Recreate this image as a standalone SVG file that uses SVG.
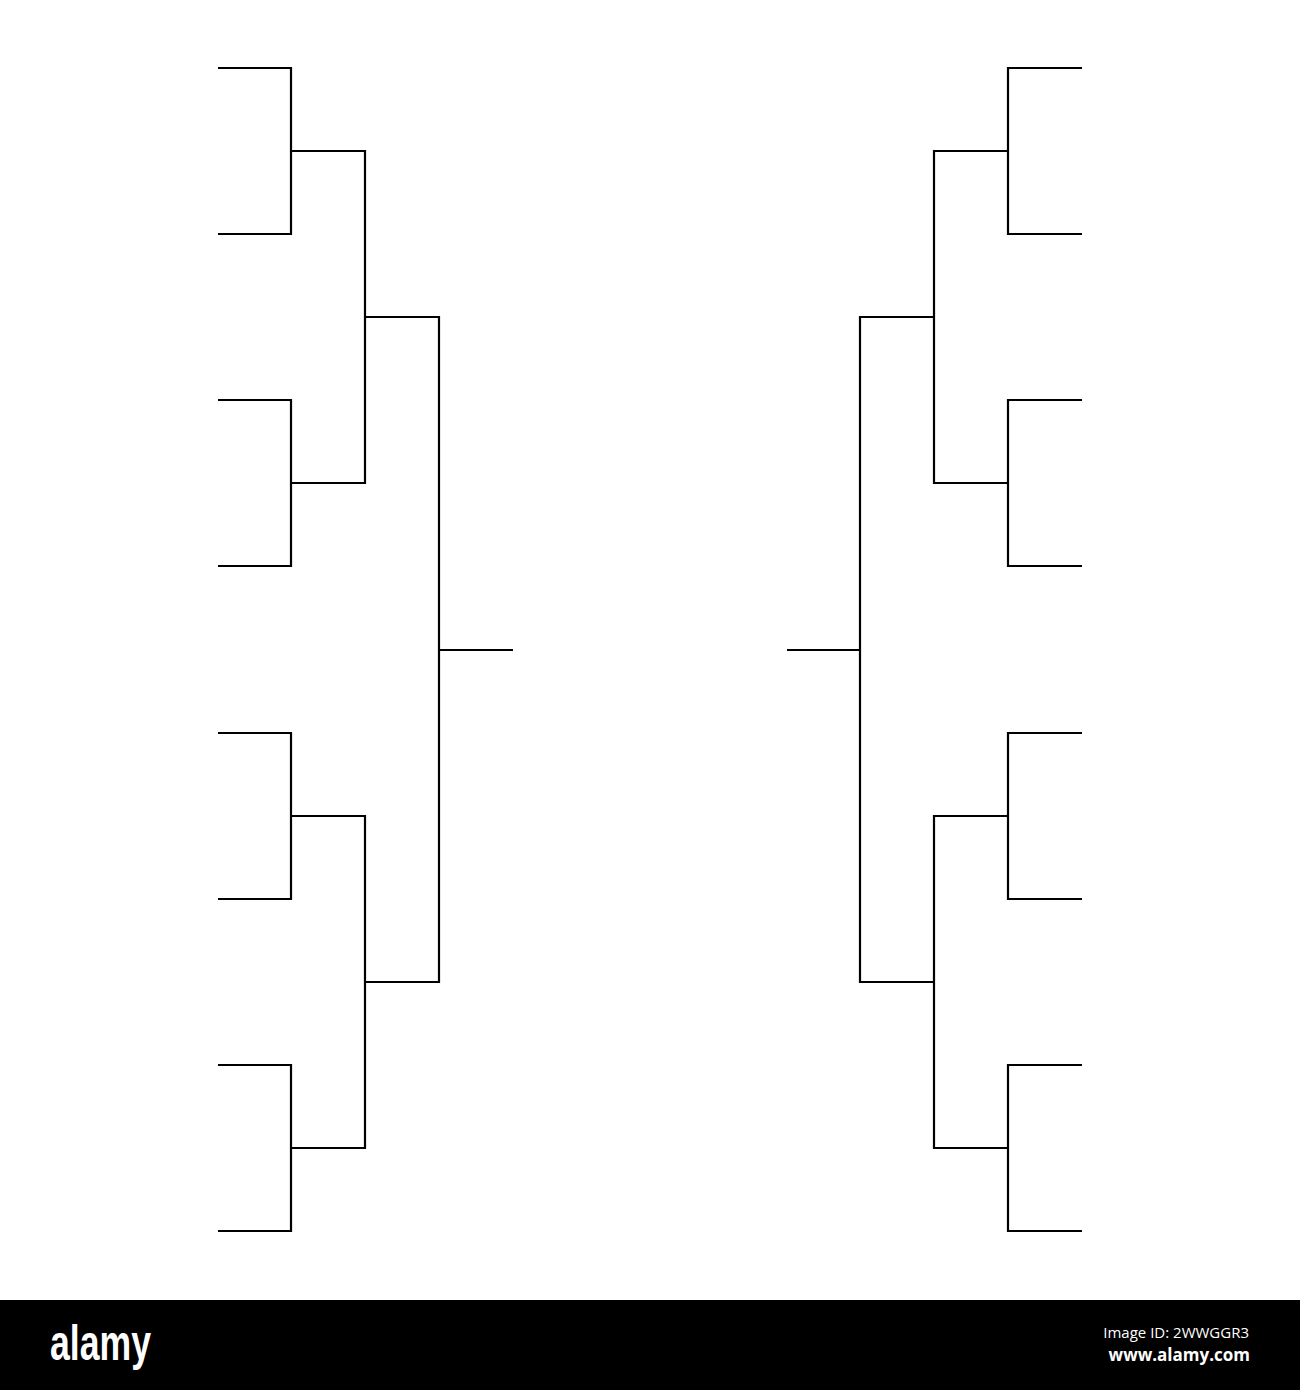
<svg xmlns="http://www.w3.org/2000/svg" width="1300" height="1390" viewBox="0 0 1300 1390">
<style>
.b{fill:none;stroke:#000;stroke-width:2.2;stroke-linecap:butt;stroke-linejoin:miter}
</style>
<rect width="1300" height="1390" fill="#fff"/>
<g id="connectors">
<g id="left">
<path class="b" d="M218 68H291V234H218"/>
<path class="b" d="M218 400H291V566H218"/>
<path class="b" d="M218 733H291V899H218"/>
<path class="b" d="M218 1065H291V1231H218"/>
<path class="b" d="M291 151H365V483H291"/>
<path class="b" d="M291 816H365V1148H291"/>
<path class="b" d="M365 317H439V982H365"/>
<path class="b" d="M439 650H513"/>
</g>
<g id="right">
<path class="b" d="M1082 68H1008V234H1082"/>
<path class="b" d="M1082 400H1008V566H1082"/>
<path class="b" d="M1082 733H1008V899H1082"/>
<path class="b" d="M1082 1065H1008V1231H1082"/>
<path class="b" d="M1008 151H934V483H1008"/>
<path class="b" d="M1008 816H934V1148H1008"/>
<path class="b" d="M934 317H860V982H934"/>
<path class="b" d="M860 650H787"/>
</g>
</g>
<g id="banner">
<rect x="0" y="1300" width="1300" height="90" fill="#000"/>
<text x="50" y="1360" font-family="Liberation Sans, Arial, sans-serif" font-weight="bold" font-size="50" fill="#fff" textLength="101" lengthAdjust="spacingAndGlyphs">alamy</text>
<text x="1249" y="1338" text-anchor="end" font-family="Open Sans, Noto Sans, sans-serif" font-size="15" fill="#fff">Image ID: 2WWGGR3</text>
<text x="1250" y="1361" text-anchor="end" font-family="Open Sans, Noto Sans, sans-serif" font-weight="bold" font-size="17" fill="#fff">www.alamy.com</text>
</g>
</svg>
